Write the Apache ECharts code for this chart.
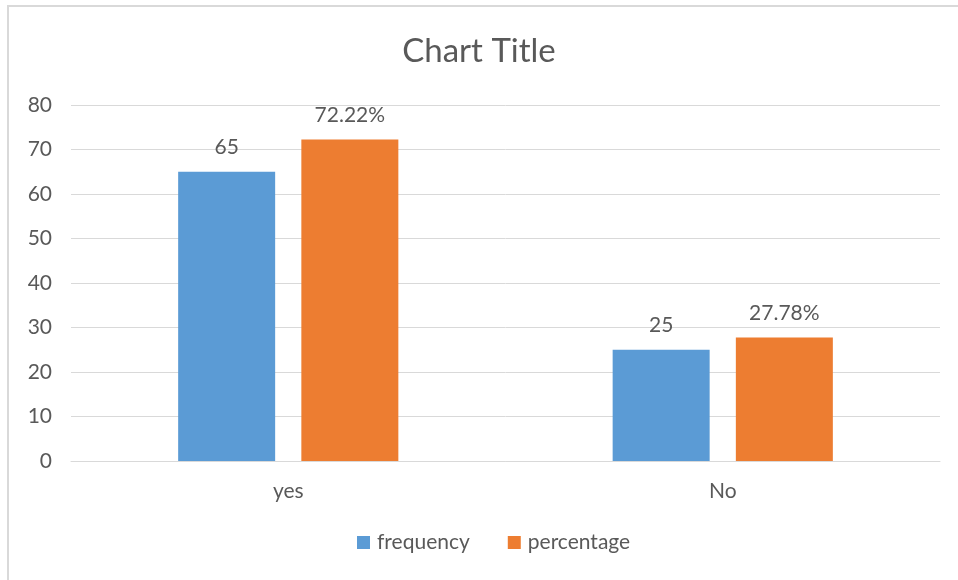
<!DOCTYPE html>
<html>
<head>
<meta charset="utf-8">
<script src="https://cdn.jsdelivr.net/npm/echarts@6/dist/echarts.min.js"></script>
<style>
  html, body { margin: 0; padding: 0; background: #fff; }
  #chart { position: absolute; left: 0; top: 0; width: 958px; height: 580px; }
  .edge-top { position: absolute; left: 7px; top: 5px; width: 951px; height: 2px; background: #d9d9d9; }
  .edge-left { position: absolute; left: 7px; top: 5px; width: 2px; height: 575px; background: #d9d9d9; }
</style>
</head>
<body>
<div id="chart"></div>
<div class="edge-top"></div>
<div class="edge-left"></div>
<script>
const categories = ['yes', 'No']
const frequency = [65, 25]
const percentage = [72.22, 27.78]
const yTicks = { min: 0, max: 80, interval: 10 }

const FONT = 'Lato, "Open Sans", sans-serif'
const TEXT = '#595959'

const chart = echarts.init(document.getElementById('chart'))

const labelStyle = {
  show: true,
  position: 'top',
  distance: 14,
  color: TEXT,
  fontSize: 21,
  fontFamily: FONT
}

chart.setOption({
  animation: false,
  title: {
    text: 'Chart Title',
    left: 'center',
    top: 30,
    textStyle: { color: TEXT, fontSize: 33, fontWeight: 'normal', fontFamily: FONT }
  },
  legend: {
    data: ['frequency', 'percentage'],
    bottom: 22,
    left: 352,
    itemWidth: 13,
    itemHeight: 13,
    itemGap: 38,
    icon: 'rect',
    textStyle: { color: TEXT, fontSize: 21, fontFamily: FONT, padding: [0, 0, 0, 2] }
  },
  grid: { left: 71, right: 18, top: 105, bottom: 119, containLabel: false },
  xAxis: {
    type: 'category',
    data: categories,
    axisLine: { show: true, lineStyle: { color: '#d9d9d9', width: 1 } },
    axisTick: { show: false },
    axisLabel: { color: TEXT, fontSize: 21, fontFamily: FONT, margin: 20 }
  },
  yAxis: {
    type: 'value',
    min: yTicks.min,
    max: yTicks.max,
    interval: yTicks.interval,
    axisLine: { show: false },
    axisTick: { show: false },
    splitLine: { lineStyle: { color: '#d9d9d9', width: 1 } },
    axisLabel: { color: TEXT, fontSize: 21, fontFamily: FONT, margin: 19 }
  },
  series: [
    {
      name: 'frequency',
      type: 'bar',
      data: frequency,
      barWidth: 97,
      barGap: '27%',
      itemStyle: { color: '#5b9bd5' },
      label: labelStyle
    },
    {
      name: 'percentage',
      type: 'bar',
      data: percentage,
      barWidth: 97,
      itemStyle: { color: '#ed7d31' },
      label: { ...labelStyle, formatter: p => p.value.toFixed(2) + '%' }
    }
  ]
})
</script>
</body>
</html>
